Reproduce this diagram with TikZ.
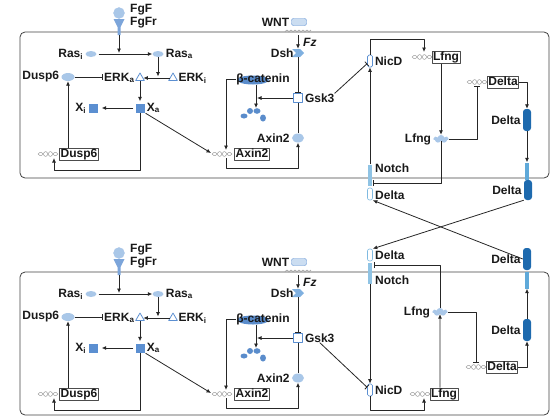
\documentclass[tikz,border=0pt]{standalone}
\usepackage{fontspec}
\setmainfont{Liberation Sans}
\usetikzlibrary{shapes.geometric,shapes.symbols,arrows.meta}

\definecolor{bleuclair}{HTML}{A9C7E8}
\definecolor{bleumoy}{HTML}{5B8FD1}
\definecolor{bleubcat}{HTML}{5A8CCB}
\definecolor{bleufonce}{HTML}{1E6AAE}
\definecolor{bleumb}{HTML}{5FA9D9}
\definecolor{bleudsh}{HTML}{7FB0E0}
\definecolor{trait}{HTML}{262626}

\tikzset{
  lab/.style={font=\fontsize{12}{14}\selectfont\bfseries, inner sep=0pt, text=black!90},
  every label/.style={lab},
  fleche/.style={draw=trait, line width=0.8pt, -{Latex[length=4.5pt,width=4pt]}},
  inhib/.style={draw=trait, line width=0.8pt, -{Bar[width=6pt]}},
  lien/.style={draw=trait, line width=0.8pt},
  ovale/.style={ellipse, fill=bleuclair, minimum width=11pt, minimum height=6pt, inner sep=0pt},
  carre/.style={fill=bleumoy, minimum size=9pt, inner sep=0pt},
  erk/.style={regular polygon, regular polygon sides=3, draw=bleumoy, line width=0.8pt, fill=white, minimum size=10pt, inner sep=0pt},
  gene/.style={lab, draw=black!70, fill=white, line width=0.5pt, inner sep=1pt, text height=8.5pt, text depth=2pt},
  gsk/.style={draw=bleumoy, fill=white, line width=0.7pt, minimum size=9pt, inner sep=0pt},
  dsh/.style={signal, signal to=east, signal from=west, fill=bleudsh, minimum width=12pt, minimum height=8pt, inner sep=0pt},
  lfng/.style={cloud, cloud puffs=7, aspect=1.8, fill=bleuclair, minimum width=15pt, minimum height=8pt, inner sep=0pt},
  nicd/.style={draw=bleumoy, fill=white, line width=0.7pt, rounded corners=1.5pt, minimum width=5pt, minimum height=12pt, inner sep=0pt},
  notch/.style={fill=bleumb!70, minimum width=4pt, minimum height=21pt, inner sep=0pt},
  deltal/.style={draw=bleumb!80, fill=white, line width=0.6pt, rounded corners=2pt, minimum width=5pt, minimum height=12pt, inner sep=0pt},
  delta/.style={fill=bleufonce, rounded corners=3pt, minimum width=8pt, minimum height=22pt, inner sep=0pt},
  tige/.style={fill=bleumb, minimum width=4pt, minimum height=17pt, inner sep=0pt},
  adn/.pic={
    \draw[gray!75, line width=0.5pt]
      plot[domain=-10:10, samples=61, smooth] (\x,{(1.3+1.4*(1-abs(\x)/10))*sin(36*\x)})
      plot[domain=-10:10, samples=61, smooth] (\x,{-(1.3+1.4*(1-abs(\x)/10))*sin(36*\x)});
  }
}

\begin{document}
\begin{tikzpicture}[x=1pt, y=-1pt, label distance=2pt, line join=round]

\useasboundingbox (0,0) rectangle (553,418);

% Voies FGF et Wnt, dans chaque cellule
\foreach \p/\dy/\bas in {h/0/178, b/240/175}{
\begin{scope}[yshift={-1pt*\dy}]

% Cellule
\draw[line width=0.8pt, draw=black!75, rounded corners=5pt] (20,32) rectangle (549,\bas);

% Recepteur FgF
\fill[bleumoy!80] (113.5,19) -- (124.5,19) -- (120.5,27) -- (120.5,35) -- (117.5,35) -- (117.5,27) -- cycle;
\filldraw[fill=bleuclair, draw=bleumoy!50] (119,13) circle (5.5pt);
\coordinate (\p-fgfr) at (119,35);
\node[lab, anchor=west] (\p-fgf) at (130,10) {FgF};
\node[lab, anchor=west] (\p-fgfr-t) at (130,23) {FgFr};

% Ras
\node[ovale, label={left:Ras\textsubscript{i}}] (\p-rasi) at (91,54) {};
\node[ovale, label={right:Ras\textsubscript{a}}] (\p-rasa) at (158,54) {};
\coordinate (\p-rasfl) at (119,53);
\draw[fleche] (\p-fgfr) -- (\p-rasfl);
\draw[fleche, shorten <=2pt] (\p-rasi) -- (\p-rasa);

% ERK
\node[erk, label={right:ERK\textsubscript{i}}] (\p-erki) at (173,78) {};
\node[erk, label={[name=\p-erka-t]left:ERK\textsubscript{a}}] (\p-erka) at (140,78) {};
\draw[fleche, shorten >=1.5pt] (\p-rasa) -- (\p-rasa |- \p-erki);
\draw[fleche] (\p-erki) -- (\p-erka);

% Dusp6
\node[ovale, minimum width=13pt, minimum height=8pt, label={left:Dusp6}] (\p-dusp) at (68,77) {};
\draw[inhib, shorten >=1pt] (\p-dusp) -- (\p-dusp -| \p-erka-t.west);

% X
\node[carre, label={right:X\textsubscript{a}}] (\p-xa) at (140,108) {};
\node[carre, label={left:X\textsubscript{i}}] (\p-xi) at (93,108) {};
\draw[fleche, shorten >=2pt] (\p-erka) -- (\p-xa);
\draw[fleche, shorten <=2pt, shorten >=4pt] (\p-xa) -- (\p-xi);

% Gene Dusp6
\pic at (48,154) {adn};
\node[gene] (\p-dusp-g) at (79,154) {Dusp6};
\coordinate (\p-dusp-adn) at (54,158);
\draw[fleche] (\p-xa.south) -- ++(0,58) -| (\p-dusp-adn);
\draw[fleche] (\p-dusp-g.north -| \p-dusp) -- (\p-dusp);

% Wnt / Fz
\node[draw=bleumoy, fill=bleuclair!60, rounded corners=2pt, minimum width=15pt, minimum height=7pt, inner sep=0pt, label={left:WNT}] (\p-wnt) at (299,22) {};
\draw[gray!70, line width=0.7pt] plot[domain=285:311, samples=80] (\x,{32-1.8*abs(sin(45*(\x-285)))});
\node[lab, font=\fontsize{12}{14}\selectfont\bfseries\itshape, anchor=west] (\p-fz-t) at (303,42) {Fz};
\coordinate (\p-fz) at (298,35);

% Dsh, Gsk3
\node[dsh, label={left:Dsh}] (\p-dsh) at (298,53) {};
\node[gsk, label={[name=\p-gsk-t]right:Gsk3}] (\p-gsk) at (298,98) {};
\draw[fleche] (\p-fz) -- (\p-dsh);
\draw[inhib] (\p-dsh) -- (\p-gsk);

% beta-catenine
\fill[bleubcat] (253,80) ellipse (16pt and 4.5pt);
\node[lab] (\p-bcat) at (263,79) {β-catenin};
\fill[bleubcat] (244,116) ellipse (3.5pt and 2.5pt) (250,111) ellipse (3pt and 3pt)
  (257,111) ellipse (3.5pt and 2.8pt) (263,118) ellipse (3pt and 3.5pt);
\coordinate (\p-frag) at (256,108);
\draw[fleche] (\p-bcat.south -| \p-frag) -- (\p-frag);
\draw[fleche, shorten >=1pt] (\p-gsk) -- (\p-gsk -| \p-frag);

% Gene Axin2
\pic at (222,154) {adn};
\node[gene] (\p-axin-g) at (252,154) {Axin2};
\coordinate (\p-axin-haut) at (226,150);
\coordinate (\p-axin-gauche) at (211,153);
\coordinate (\p-axin-bas) at (226,158);
\draw[fleche] (\p-bcat.west) -| (\p-axin-haut);
\draw[fleche, shorten <=1pt] (\p-xa.south east) -- (\p-axin-gauche);
\node[ovale, minimum width=12pt, minimum height=9pt, label={left:Axin2}] (\p-axin) at (298,138) {};
\draw[fleche] (\p-axin-bas) -- ++(0,10) -| (\p-axin);
\draw[lien] (\p-axin) -- (\p-gsk);

\end{scope}
}

% Notch, cellule du haut
\node[nicd, label={right:NicD}] (h-nicd) at (370,61) {};
\node[notch] (h-notch) at (370,175) {};
\node[lab, anchor=west] (h-notch-t) at (375,168) {Notch};
\node[deltal] (h-deltal) at (370,194) {};
\node[lab, anchor=west] (h-deltal-t) at (375,195) {Delta};
\draw[fleche] (h-notch) -- (h-nicd);
\draw[inhib] (h-gsk-t.north east) -- (h-nicd);

\pic at (422,57) {adn};
\node[gene] (h-lfng-g) at (446,57) {Lfng};
\coordinate (h-lfng-adn) at (424,52);
\draw[fleche] (h-nicd.north) -- ++(0,-15) -| (h-lfng-adn);
\node[lfng, label={left:Lfng}] (h-lfng) at (441,139) {};
\draw[fleche] (h-lfng-g.south -| h-lfng) -- (h-lfng);
\coordinate (h-notch-lfng) at (373,183);
\draw[inhib] (h-lfng) |- (h-notch-lfng);

\pic at (477,82) {adn};
\node[gene] (h-delta-g) at (503,82) {Delta};
\coordinate (h-delta-adn) at (477,86);
\draw[inhib] (h-lfng) -| (h-delta-adn);
\node[delta, label={left:Delta}] (h-delta) at (527,120) {};
\draw[fleche] (h-delta-g.east) -| (h-delta);
\node[tige] (h-tige) at (527,171) {};
\node[delta, minimum height=20pt, label={left:Delta}] (h-deltam) at (528,190) {};
\draw[fleche] (h-delta) -- (h-tige);

% Notch, cellule du bas
\node[deltal] (b-deltal) at (370,255) {};
\node[lab, anchor=west] (b-deltal-t) at (375,255) {Delta};
\node[notch] (b-notch) at (370,273) {};
\node[lab, anchor=west] (b-notch-t) at (375,280) {Notch};
\node[nicd, label={right:NicD}] (b-nicd) at (370,390) {};
\draw[fleche] (b-notch) -- (b-nicd);
\draw[inhib] (b-gsk-t.south) -- (b-nicd);

\pic at (420,394) {adn};
\node[gene] (b-lfng-g) at (444,394) {Lfng};
\coordinate (b-lfng-adn) at (424,398);
\draw[fleche] (b-nicd.south) -- ++(0,14) -| (b-lfng-adn);
\node[lfng, label={left:Lfng}] (b-lfng) at (440,312) {};
\draw[fleche] (b-lfng-g.north -| b-lfng) -- (b-lfng);
\coordinate (b-notch-lfng) at (374,265);
\draw[inhib] (b-lfng) |- (b-notch-lfng);

\pic at (476,367) {adn};
\node[gene] (b-delta-g) at (502,367) {Delta};
\coordinate (b-delta-adn) at (476,363);
\draw[inhib] (b-lfng) -| (b-delta-adn);
\node[delta, label={left:Delta}] (b-delta) at (527,330) {};
\draw[fleche] (b-delta-g.east) -| (b-delta);
\node[tige] (b-tige) at (527,280) {};
\node[delta, label={left:Delta}] (b-deltam) at (527,259) {};
\draw[fleche] (b-delta) -- (b-tige);

% Delta -> Notch entre cellules
\draw[fleche] (h-deltam.south west) -- (b-deltal.north east);
\draw[fleche] (b-deltam.west) -- (h-deltal.south east);

\end{tikzpicture}
\end{document}
